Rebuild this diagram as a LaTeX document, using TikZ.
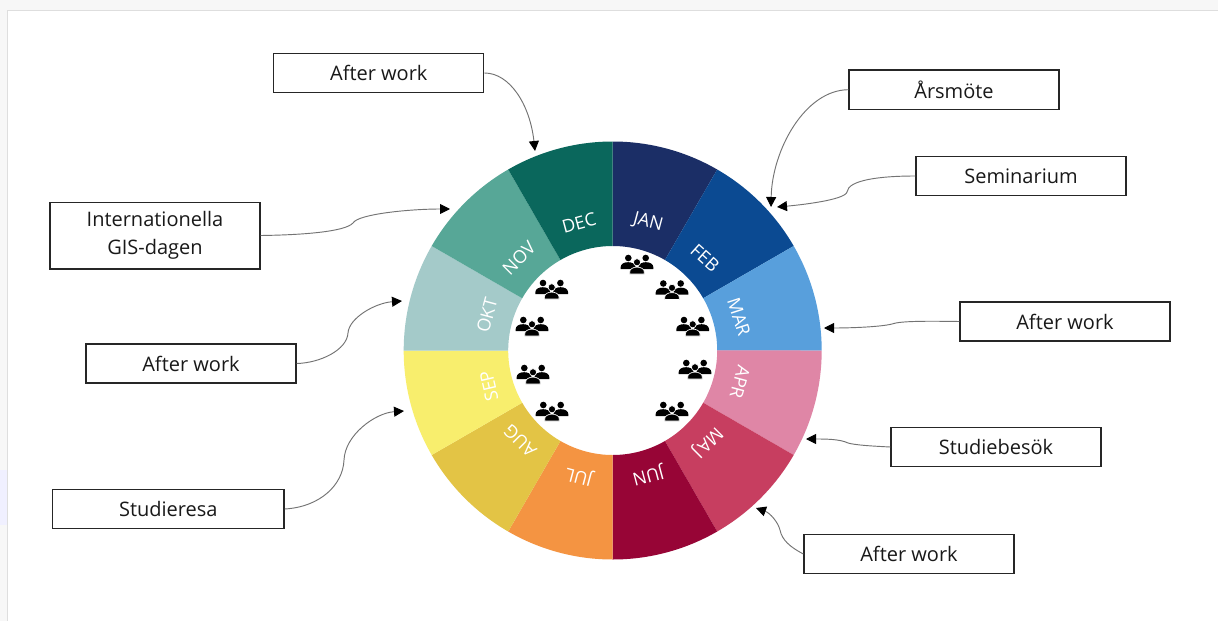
\documentclass[tikz,border=0pt]{standalone}
\usepackage{fontspec}
\setmainfont{Open Sans}
\usetikzlibrary{arrows.meta}
\definecolor{cJAN}{HTML}{1B2E66}
\definecolor{cFEB}{HTML}{0B4A92}
\definecolor{cMAR}{HTML}{589FDC}
\definecolor{cAPR}{HTML}{DF86A6}
\definecolor{cMAJ}{HTML}{C73E60}
\definecolor{cJUN}{HTML}{970536}
\definecolor{cJUL}{HTML}{F49442}
\definecolor{cAUG}{HTML}{E3C445}
\definecolor{cSEP}{HTML}{F8EE6D}
\definecolor{cOKT}{HTML}{A4CAC9}
\definecolor{cNOV}{HTML}{57A797}
\definecolor{cDEC}{HTML}{0A675C}
\tikzset{
  evbox/.style={draw=black!85,line width=1pt,fill=white,minimum width=157.5pt,minimum height=29.4pt,inner sep=0pt,font=\fontsize{15}{21}\selectfont,text=black!90,align=center},
  conn/.style={draw=black!55,line width=.7pt,-{Triangle[length=7.5pt,width=7.5pt,black]}},
  monthlab/.style={text=white,font=\fontsize{13.5}{16}\selectfont,inner sep=0pt},
  people/.pic={
    \fill (-8.7,-6) circle (3.3) (8.7,-6) circle (3.3);
    \fill (-16.3,5) -- (-16.3,3) .. controls (-16.3,-3.4) and (-1.5,-3.4) .. (-1.5,3) -- (-1.5,5) -- cycle;
    \fill (16.3,5) -- (16.3,3) .. controls (16.3,-3.4) and (1.5,-3.4) .. (1.5,3) -- (1.5,5) -- cycle;
    \fill[draw=white,line width=.5pt] (0,-1.7) circle (3.6);
    \fill[draw=white,line width=.5pt] (-7.3,10) -- (-7.3,8) .. controls (-7.3,1.5) and (7.3,1.5) .. (7.3,8) -- (7.3,10) -- cycle;
  }
}
\begin{document}
\begin{tikzpicture}[x=.75pt,y=-.75pt]
\useasboundingbox (0,0) rectangle (1218,621);
\fill[black!3] (0,0) rectangle (1218,621);
\fill[blue!6] (0,470) rectangle (7.5,525);
\fill[white] (7.5,10.5) rectangle (1218,621);
\draw[black!13,line width=.75pt] (7.5,621) -- (7.5,10.5) -- (1218,10.5);
% wheel
\begin{scope}[shift={(612.7,350.5)},y=.75pt]
\foreach \n/\a in {JAN/90,FEB/60,MAR/30,APR/0,MAJ/-30,JUN/-60,JUL/-90,AUG/-120,SEP/-150,OKT/-180,NOV/-210,DEC/-240}{
  \pgfmathsetmacro{\b}{\a-30}
  \fill[c\n] (\a:209) arc[start angle=\a,end angle=\b,radius=156.75pt]
     -- (\b:104.5) arc[start angle=\b,end angle=\a,radius=78.4pt] -- cycle;
}
\end{scope}
\foreach \n/\x/\y/\r in {JAN/648/223/-15,FEB/705/258/-42,MAR/739/317/-72,APR/740/382/-105,MAJ/707/442/-135,JUN/648/475/-165,JUL/579/476/165,AUG/520/441/135,SEP/489/386/103,OKT/487/315/75,NOV/519/258/45,DEC/579/223/15}{
  \node[monthlab,rotate=\r] (m\n) at (\x,\y) {\n};
}
% icons
\foreach \x/\y in {637/264,672/289.5,692.7/326,695/369,672/411,551.7/289,532/326,533/374,552/411}{
  \pic at (\x,\y) {people};
}
% boxes
\node[evbox] (top) at (378.8,73) {After work};
\node[evbox] (ars) at (954,89.7) {Årsmöte};
\node[evbox] (sem) at (1021,176) {Seminarium};
\node[evbox] (mar) at (1065,321.5) {After work};
\node[evbox] (stb) at (996,447) {Studiebesök};
\node[evbox] (bot) at (909,554) {After work};
\node[evbox,minimum width=173.5pt] (str) at (168.3,509) {Studieresa};
\node[evbox] (lef) at (191,363.5) {After work};
\node[evbox,minimum height=50pt] (gis) at (155,235.5) {Internationella\\GIS-dagen};
% connector ends
\coordinate (ttop) at (535,151);
\coordinate (tars) at (771,207);
\coordinate (tsem) at (777,207);
\coordinate (tmar) at (824,328);
\coordinate (tstb) at (806,439);
\coordinate (tbot) at (756,508);
\coordinate (tstr) at (404,411);
\coordinate (tlef) at (402,301);
\coordinate (tgis) at (450,209);
\draw[conn] (top.east) .. controls (510,73) and (530,105) .. (ttop);
\draw[conn] (ars.west) .. controls (805,90) and (772,150) .. (tars);
\draw[conn] (sem.west) .. controls (880,176) and (848,180) .. (847,192) .. controls (845,200) and (800,205) .. (tsem);
\draw[conn] (mar.west) .. controls (925,321) and (900,321) .. (892,324) .. controls (880,327) and (850,328) .. (tmar);
\draw[conn] (stb.west) .. controls (870,446) and (855,445) .. (848,443) .. controls (840,439) and (825,439) .. (tstb);
\draw[conn] (bot.west) .. controls (790,547) and (782,540) .. (780,530) .. controls (778,522) and (770,513) .. (tbot);
\draw[conn] (str.east) .. controls (320,507) and (343,485) .. (344,460) .. controls (345,435) and (375,413) .. (tstr);
\draw[conn] (lef.east) .. controls (320,363) and (347,350) .. (348,333) .. controls (349,318) and (375,303) .. (tlef);
\draw[conn] (gis.east) .. controls (300,235) and (345,232) .. (353,223) .. controls (358,214) and (410,209) .. (tgis);
\end{tikzpicture}
\end{document}
